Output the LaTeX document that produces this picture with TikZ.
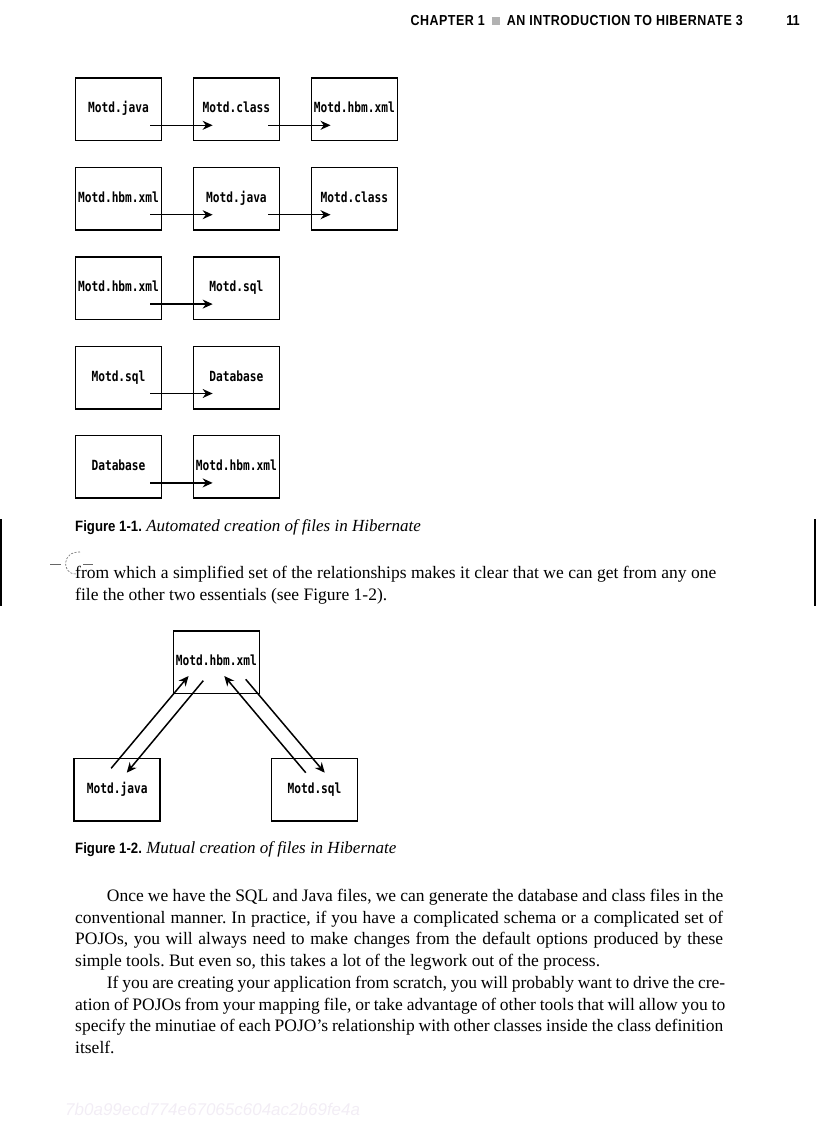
\documentclass[tikz,border=0pt]{standalone}
\usepackage{fontspec}
\usepackage{tikz}
\usetikzlibrary{arrows.meta, positioning, calc}
\setmainfont{Liberation Serif}
\newfontfamily\capsans[FakeStretch=0.88]{Liberation Sans}
\newfontfamily\headsans[FakeStretch=0.86,LetterSpace=3.5]{Liberation Sans}
\newfontfamily\labelmono[FakeStretch=0.8]{DejaVu Sans Mono}
\newfontfamily\wmsans{Liberation Sans}
\definecolor{wmark}{rgb}{0.95,0.93,0.96}
\frenchspacing
\newcommand{\Body}{\fontsize{17.5}{20}\selectfont}
\newcommand{\Jline}[2]{\makebox[#1pt][s]{#2}}
\newcommand{\Fig}[2]{{\capsans\bfseries\fontsize{15}{18}\selectfont Figure #1.} {\fontsize{17}{20}\selectfont\itshape #2}}
\tikzset{
    filebox/.style={draw, line width=1.5pt, minimum width=86pt, minimum height=62.5pt,
      inner sep=0pt, text height=10pt, text depth=3pt,
      font=\labelmono\bfseries\fontsize{14}{16}\selectfont},
    flow/.style={-{Stealth[length=10pt,width=9pt]}, line width=1.5pt},
    textline/.style={anchor=base west, inner sep=0pt, font=\Body},
}

\begin{document}
\begin{tikzpicture}[x=1pt, y=-1pt]
    \tikzset{
      node distance=25.4pt and 30.4pt
    }
    \useasboundingbox (0,0) rectangle (816,1123);

    \node[anchor=base east, inner sep=0pt, font=\headsans\bfseries\fontsize{14.5}{16}\selectfont] (head) at (743,25.5)
      {CHAPTER 1\hspace{3pt} \textcolor{black!30}{\rule{8pt}{8pt}}\hspace{3pt} AN INTRODUCTION TO HIBERNATE 3};
    \node[anchor=base east, inner sep=0pt, font=\capsans\bfseries\fontsize{14.5}{16}\selectfont] (pgno) at (800,25.5) {11};

    \node[filebox] (a1) at (118.5,109.3) {Motd.java};
    \node[filebox, right=of a1] (a2) {Motd.class};
    \node[filebox, right=of a2] (a3) {Motd.hbm.xml};

    \node[filebox, below=of a1] (b1) {Motd.hbm.xml};
    \node[filebox, right=of b1] (b2) {Motd.java};
    \node[filebox, right=of b2] (b3) {Motd.class};

    \node[filebox, below=of b1] (c1) {Motd.hbm.xml};
    \node[filebox, right=of c1] (c2) {Motd.sql};

    \node[filebox, below=of c1] (d1) {Motd.sql};
    \node[filebox, right=of d1] (d2) {Database};

    \node[filebox, below=of d1] (e1) {Database};
    \node[filebox, right=of e1] (e2) {Motd.hbm.xml};

    \draw[flow] ([xshift=-12pt,yshift=16pt]a1.south east) -- ([xshift=20pt,yshift=16pt]a2.south west);
    \draw[flow] ([xshift=-12pt,yshift=16pt]a2.south east) -- ([xshift=20pt,yshift=16pt]a3.south west);
    \draw[flow] ([xshift=-12pt,yshift=16pt]b1.south east) -- ([xshift=20pt,yshift=16pt]b2.south west);
    \draw[flow] ([xshift=-12pt,yshift=16pt]b2.south east) -- ([xshift=20pt,yshift=16pt]b3.south west);
    \draw[flow] ([xshift=-12pt,yshift=16pt]c1.south east) -- ([xshift=20pt,yshift=16pt]c2.south west);
    \draw[flow] ([xshift=-12pt,yshift=16pt]d1.south east) -- ([xshift=20pt,yshift=16pt]d2.south west);
    \draw[flow] ([xshift=-12pt,yshift=16pt]e1.south east) -- ([xshift=20pt,yshift=16pt]e2.south west);

    \node[textline] (cap1) at (75,531.7) {\Fig{1-1}{Automated creation of files in Hibernate}};

    \draw[line width=2pt] (1,519) -- (1,606);
    \draw[line width=2pt] (815,519) -- (815,606);
    \draw[black!60, line width=0.6pt] (50,564) -- (61,564);
    \draw[black!60, line width=0.6pt] (83,564) -- (93,564);
    \draw[black!60, line width=0.6pt, dash pattern=on 2pt off 1.5pt] (80,552) .. controls (62,551) and (61,574) .. (76,574);

    \node[textline] (p1l1) at (75,578.5) {\Jline{641}{from which a simplified set of the relationships makes it clear that we can get from any one}};
    \node[textline] (p1l2) at (75,600) {file the other two essentials (see Figure 1-2).};

    \node[filebox] (hbm) at (216.3,662) {Motd.hbm.xml};
    \node[filebox, below left=63.7pt and 11.6pt of hbm] (java) {Motd.java};
    \node[filebox, below right=63.7pt and 10.7pt of hbm] (sql) {Motd.sql};

    \draw[flow] ([xshift=37.7pt,yshift=-10.6pt]java.north west) -- ([xshift=16pt,yshift=18pt]hbm.south west);
    \draw[flow] ([xshift=30.7pt,yshift=13.3pt]hbm.south west) -- ([xshift=53.3pt,yshift=-15pt]java.north west);
    \draw[flow] ([xshift=35pt,yshift=-15pt]sql.north west) -- ([xshift=8pt,yshift=18pt]hbm.south);
    \draw[flow] ([xshift=29.4pt,yshift=14.7pt]hbm.south) -- ([xshift=54pt,yshift=-15pt]sql.north west);

    \node[textline] (cap2) at (75,853) {\Fig{1-2}{Mutual creation of files in Hibernate}};

    \node[textline] (p2l1) at (106.7,901.5) {\Jline{616.3}{Once we have the SQL and Java files, we can generate the database and class files in the}};
    \node[textline] (p2l2) at (75,923.2) {\Jline{648}{conventional manner. In practice, if you have a complicated schema or a complicated set of}};
    \node[textline] (p2l3) at (75,944.9) {\Jline{648}{POJOs, you will always need to make changes from the default options produced by these}};
    \node[textline] (p2l4) at (75,966.6) {simple tools. But even so, this takes a lot of the legwork out of the process.};

    \node[textline] (p3l1) at (106.7,988.3) {\Jline{618.3}{If you are creating your application from scratch, you will probably want to drive the cre-}};
    \node[textline] (p3l2) at (75,1010) {\Jline{650}{ation of POJOs from your mapping file, or take advantage of other tools that will allow you to}};
    \node[textline] (p3l3) at (75,1031.7) {\Jline{648}{specify the minutiae of each POJO’s relationship with other classes inside the class definition}};
    \node[textline] (p3l4) at (75,1053.4) {itself.};

    \node[anchor=base west, inner sep=0pt, text=wmark, font=\wmsans\itshape\fontsize{17}{20}\selectfont] (wm) at (65,1115) {7b0a99ecd774e67065c604ac2b69fe4a};
\end{tikzpicture}
\end{document}
